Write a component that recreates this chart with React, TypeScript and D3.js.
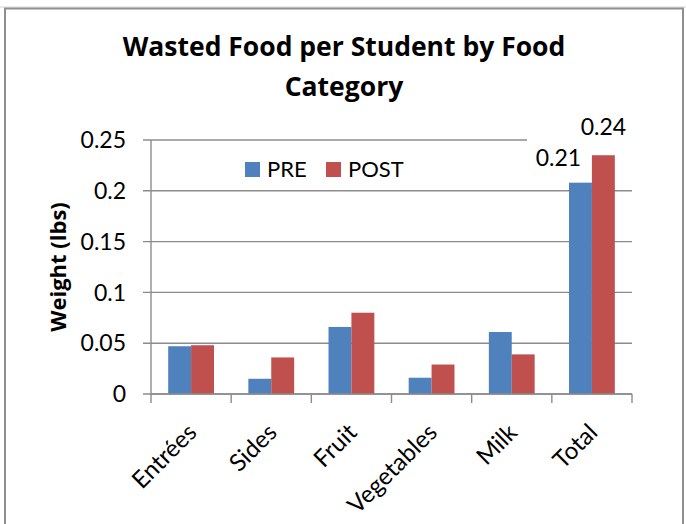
import React from "react";
import * as d3 from "d3";

const categories = ["Entrées", "Sides", "Fruit", "Vegetables", "Milk", "Total"];
const preValues = [0.047, 0.015, 0.066, 0.016, 0.061, 0.208];
const postValues = [0.048, 0.036, 0.080, 0.029, 0.039, 0.235];
const seriesNames = ["PRE", "POST"];
const seriesColors = ["#4F81BD", "#C0504D"];
const preLabels = ["", "", "", "", "", "0.21"];
const postLabels = ["", "", "", "", "", "0.24"];
const yTicks = [0, 0.05, 0.1, 0.15, 0.2, 0.25];
const yTickLabels = ["0", "0.05", "0.1", "0.15", "0.2", "0.25"];
const titleLines = ["Wasted Food per Student by Food", "Category"];
const yAxisTitle = "Weight (lbs)";

const W = 686;
const H = 524;
const FONT = "Lato, 'Open Sans', sans-serif";
const BOLD_FONT = "'Open Sans', Lato, sans-serif";

export default function App() {
  const left = 151;
  const right = 632;
  const top = 140;
  const bottom = 394;

  const x = d3.scaleBand<string>().domain(categories).range([left, right]).paddingInner(0).paddingOuter(0);
  const y = d3.scaleLinear().domain([0, 0.25]).range([bottom, top]);
  const bw = x.bandwidth() / 3.5;
  const xs = d3.scaleBand<string>().domain(seriesNames).range([0, 2 * bw]);
  const groupOffset = (x.bandwidth() - 2 * bw) / 2;

  const series = [preValues, postValues];
  const labels = [preLabels, postLabels];
  const labelDx = [-22, 0];
  const labelDy = [-17, -20];

  const gridColor = "#8c8c8c";

  return (
    <svg width={W} height={H} style={{ position: "absolute", left: 0, top: 0, background: "#fff" }} fontFamily={FONT}>
      <rect x={0} y={0} width={W} height={H} fill="#fff" />
      {/* outer frame */}
      <line x1={0} x2={W} y1={7} y2={7} stroke="#d4d4d4" strokeWidth={1} />
      <rect x={5} y={8.5} width={678} height={H} fill="none" stroke="#8f8f8f" strokeWidth={2} />

      {/* title */}
      {titleLines.map((t, i) => (
        <text key={i} x={W / 2 + 1} y={56 + i * 40} textAnchor="middle" fontFamily={BOLD_FONT} fontWeight="bold" fontSize={26.5} fill="#000">
          {t}
        </text>
      ))}

      {/* gridlines */}
      {yTicks.map((t, i) => (
        <line key={i} x1={left - 8} x2={i === yTicks.length - 1 ? 527 : right} y1={y(t)} y2={y(t)} stroke={gridColor} strokeWidth={1.4} />
      ))}
      {/* y axis */}
      <line x1={left} x2={left} y1={top} y2={bottom} stroke={gridColor} strokeWidth={1.4} />
      {yTicks.map((t, i) => (
        <text key={i} x={126} y={y(t)} dy="0.36em" textAnchor="end" fontSize={23} fill="#000">
          {yTickLabels[i]}
        </text>
      ))}
      <text transform={`translate(66,${(top + bottom) / 2}) rotate(-90)`} textAnchor="middle" fontFamily={BOLD_FONT} fontWeight="bold" fontSize={22} fill="#000">
        {yAxisTitle}
      </text>

      {/* bars */}
      {series.map((vals, s) =>
        vals.map((v, i) => (
          <rect
            key={`${s}-${i}`}
            x={(x(categories[i]) as number) + groupOffset + (xs(seriesNames[s]) as number)}
            y={y(v)}
            width={xs.bandwidth()}
            height={bottom - y(v)}
            fill={seriesColors[s]}
          />
        ))
      )}

      {/* x axis */}
      <line x1={left} x2={right} y1={bottom} y2={bottom} stroke={gridColor} strokeWidth={1.4} />
      {[...categories.map((c) => x(c) as number), right].map((px, i) => (
        <line key={i} x1={px} x2={px} y1={bottom} y2={bottom + 9} stroke={gridColor} strokeWidth={1.4} />
      ))}
      {categories.map((c, i) => {
        const cx = (x(c) as number) + x.bandwidth() / 2;
        return (
          <text key={i} transform={`translate(${cx + 7},${bottom + 40}) rotate(-45)`} textAnchor="end" fontSize={24} fill="#000">
            {c}
          </text>
        );
      })}

      {/* data labels */}
      {labels.map((ls, s) =>
        ls.map((l, i) =>
          l ? (
            <text
              key={`${s}-${i}`}
              x={(x(categories[i]) as number) + groupOffset + (xs(seriesNames[s]) as number) + xs.bandwidth() / 2 + labelDx[s]}
              y={y(series[s][i]) + labelDy[s]}
              textAnchor="middle"
              fontSize={23}
              fill="#000"
            >
              {l}
            </text>
          ) : null
        )
      )}

      {/* legend */}
      {seriesNames.map((n, i) => {
        const lx = [245, 326][i];
        return (
          <g key={n}>
            <rect x={lx} y={162} width={15} height={15} fill={seriesColors[i]} />
            <text x={lx + 22} y={177} fontSize={22} fill="#000">
              {n}
            </text>
          </g>
        );
      })}
    </svg>
  );
}
